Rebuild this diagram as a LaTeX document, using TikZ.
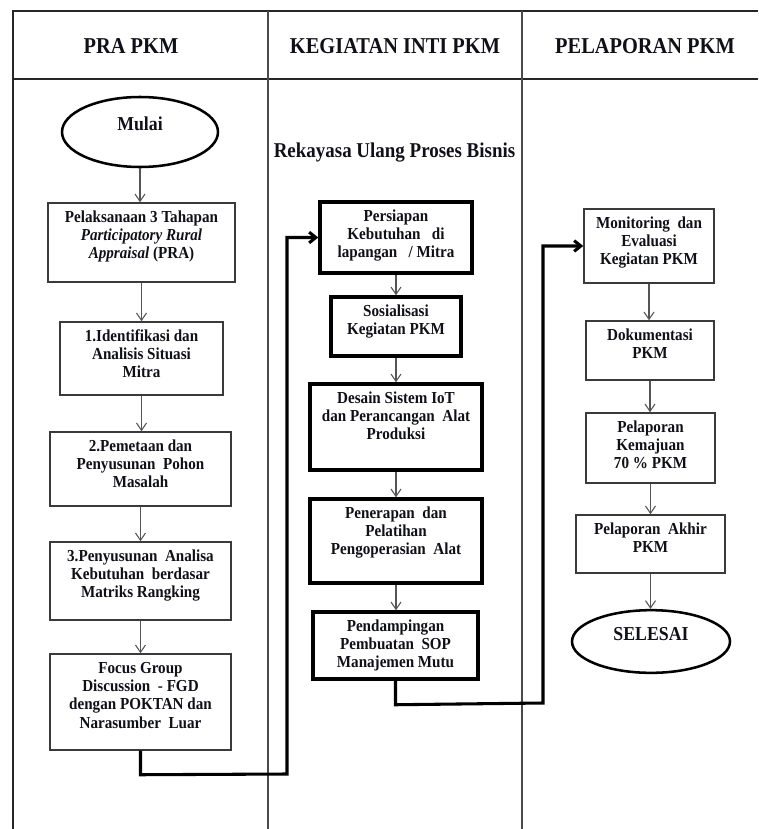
\documentclass[tikz,border=0pt]{standalone}
\usepackage{fontspec}
\setmainfont{Liberation Serif}[FakeStretch=0.9]
\usetikzlibrary{arrows.meta,shapes.geometric}
\definecolor{ink}{HTML}{101018}
\definecolor{gridgrey}{HTML}{4A4A4A}
\definecolor{boxgrey}{HTML}{3A3A3A}
\definecolor{arrgrey}{HTML}{555555}
% #1 width px, #2 height px, #3 text
\newcommand\bxt[3]{\parbox[c][\dimexpr #2pt*3/4\relax][t]{\dimexpr #1pt*3/4\relax}{\centering\rule{0pt}{14.25pt}#3\par}}
\begin{document}
\begin{tikzpicture}[x=0.75pt,y=-0.75pt,
  every node/.style={text=ink, font=\fontsize{12.6}{13.75}\selectfont\bfseries},
  hdr/.style={font=\fontsize{17}{19}\selectfont\bfseries, inner sep=0pt},
  thinbox/.style={draw=boxgrey, line width=1.1pt, inner sep=0pt, rectangle},
  thickbox/.style={draw=black, line width=2.6pt, inner sep=0pt, rectangle},
  oval/.style={ellipse, draw=black, line width=1.9pt, inner sep=0pt,
    font=\fontsize{14.8}{16}\selectfont\bfseries},
  tableline/.style={draw=black!85, line width=1.5pt},
  colline/.style={draw=gridgrey, line width=1.1pt},
  thinarrow/.style={draw=arrgrey, line width=0.8pt, -{Straight Barb[length=5.5pt,width=7.5pt]}},
  thickarrow/.style={draw=black, line width=2.3pt, -{Straight Barb[length=5pt,width=8pt]}}
]
\useasboundingbox (0,0) rectangle (758,829);

% table
\draw[tableline] (13,829) -- (13,11) -- (758,11);
\draw[tableline] (13,79) -- (758,79);
\draw[colline] (268,11) -- (268,829);
\draw[colline] (522,11) -- (522,829);

% headers
\node[hdr] (h1) at (131,46) {PRA PKM};
\node[hdr] (h2) at (395,46) {KEGIATAN INTI PKM};
\node[hdr] (h3) at (645,46) {PELAPORAN PKM};

\node[font=\fontsize{15.8}{17}\selectfont\bfseries, inner sep=0pt] (rek) at (394.5,153) {Rekayasa Ulang Proses Bisnis};

% left column
\node[oval, minimum width=117pt, minimum height=52.5pt] (mulai) at (140,132) {\raisebox{12pt}{Mulai}};
\node[thinbox] (b1) at (141.5,242.5) {\bxt{187}{79}{Pelaksanaan 3 Tahapan\\ {\itshape Participatory Rural}\\ {\itshape Appraisal} (PRA)}};
\node[thinbox] (b2) at (141.5,358.5) {\bxt{163}{73}{1.Identifikasi dan\\ Analisis Situasi\\ Mitra}};
\node[thinbox] (b3) at (140.5,469) {\bxt{181}{74}{2.Pemetaan dan\\ Penyusunan\ \ Pohon\\ Masalah}};
\node[thinbox] (b4) at (140.5,581) {\bxt{181}{78}{3.Penyusunan\ \ Analisa\\ Kebutuhan\ \ berdasar\\ Matriks Rangking}};
\node[thinbox] (b5) at (140.5,702) {\bxt{181}{96}{Focus Group\\ Discussion\ \ - FGD\\ dengan POKTAN dan\\ Narasumber\ \ Luar}};

% middle column
\node[thickbox] (m1) at (396,237.5) {\bxt{152}{71}{Persiapan\\ Kebutuhan\ \ \ di\\ lapangan\ \ \ / Mitra}};
\node[thickbox] (m2) at (396,326.5) {\bxt{130}{59}{Sosialisasi\\ Kegiatan PKM}};
\node[thickbox] (m3) at (396,427) {\bxt{172}{86}{Desain Sistem IoT\\ dan Perancangan\ \ Alat\\ Produksi}};
\node[thickbox] (m4) at (396,541) {\bxt{172}{84}{Penerapan\ \ dan\\ Pelatihan\\ Pengoperasian\ \ Alat}};
\node[thickbox] (m5) at (395.5,645.5) {\bxt{165}{67}{Pendampingan\\ Pembuatan\ \ SOP\\ Manajemen Mutu}};

% right column
\node[thinbox] (r1) at (649,246) {\bxt{130}{74}{Monitoring\ \ dan\\ Evaluasi\\ Kegiatan PKM}};
\node[thinbox] (r2) at (650,350.5) {\bxt{128}{59}{Dokumentasi\\ PKM}};
\node[thinbox] (r3) at (650.5,448) {\bxt{129}{70}{Pelaporan\\ Kemajuan\\ 70 \% PKM}};
\node[thinbox] (r4) at (650.5,544) {\bxt{149}{58}{Pelaporan\ \ Akhir\\ PKM}};
\node[oval, minimum width=118.5pt, minimum height=47pt] (selesai) at (651,641.5) {\raisebox{12pt}{SELESAI}};

% thin arrows
\draw[thinarrow] (mulai.south) -- (mulai.south |- b1.north);
\draw[thinarrow] (b1.south) -- (b1.south |- b2.north);
\draw[thinarrow] (b2.south) -- (b2.south |- b3.north);
\draw[thinarrow] (b3.south) -- (b3.south |- b4.north);
\draw[thinarrow] (b4.south) -- (b4.south |- b5.north);

\draw[thinarrow] (m1.south) -- (m1.south |- m2.north);
\draw[thinarrow] (m2.south) -- (m2.south |- m3.north);
\draw[thinarrow] (m3.south) -- (m3.south |- m4.north);
\draw[thinarrow] (m4.south) -- (m4.south |- m5.north);

\draw[thinarrow] (r1.south) -- (r1.south |- r2.north);
\draw[thinarrow] (r2.south) -- (r2.south |- r3.north);
\draw[thinarrow] (r3.south) -- (r3.south |- r4.north);
\draw[thinarrow] (r4.south) -- (r4.south |- selesai.north);

% thick connectors
\draw[thickarrow] (b5.south) -- ++(0,24) -- (287,774) |- (m1.west);
\draw[thickarrow] (m5.south) -- ++(0,24) -- (543,703) |- (r1.west);
\end{tikzpicture}
\end{document}
